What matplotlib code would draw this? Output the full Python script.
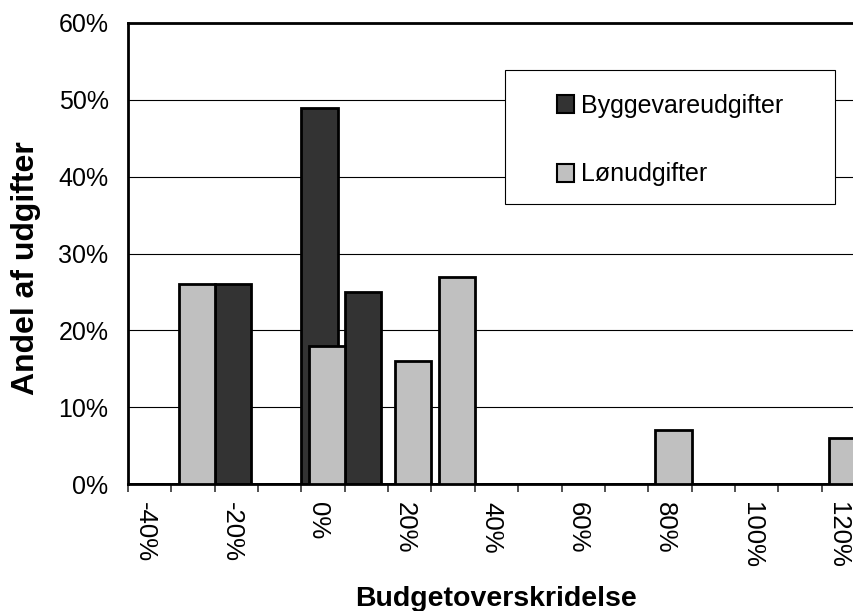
import numpy as np
import matplotlib
matplotlib.use('Agg')
import matplotlib.pyplot as plt
import matplotlib.transforms as mtransforms
from matplotlib.patches import Rectangle, Patch

plt.rcParams['font.family'] = ['Liberation Sans', 'DejaVu Sans']

# budgetoverskridelse i procent (kategorier paa x-aksen)
overskridelse = [-40, -30, -20, -10, 0, 10, 20, 30, 40, 50, 60, 70, 80, 90, 100, 110, 120]
# andel af udgifter i procent
byggevare = [0, 0, 26, 0, 49, 25, 0, 0, 0, 0, 0, 0, 0, 0, 0, 0, 0]
loen = [0, 26, 0, 0, 18, 0, 16, 27, 0, 0, 0, 0, 7, 0, 0, 0, 6]
y_ticks = [0, 10, 20, 30, 40, 50, 60]
x_labels = [f'{v}%' for v in overskridelse[::2]]

DARK = '#333333'
LIGHT = '#C0C0C0'

fig = plt.figure(figsize=(8.54, 6.11), dpi=100)
ax = fig.add_axes([128 / 854, 127 / 611, 737 / 854, 461 / 611])

x = np.arange(len(overskridelse))
# excel-style: gap 0, overlap 80%
width = 1 / 1.2
off = width * 0.2
ax.bar(x - off / 2, byggevare, width, color=DARK, edgecolor='black', linewidth=2, zorder=2)
ax.bar(x + off / 2, loen, width, color=LIGHT, edgecolor='black', linewidth=2, zorder=3)

ax.set_xlim(-0.5, len(overskridelse) - 0.5)
ax.set_ylim(0, 60)

# y-akse
ax.set_yticks(y_ticks)
ax.set_yticklabels([f'{v}%' for v in y_ticks])
ax.tick_params(axis='y', length=0, pad=14, labelsize=18)
ax.yaxis.grid(True, color='black', linewidth=0.8)
ax.set_axisbelow(True)

# x-akse: streger mellem kategorier, tekst paa hver anden kategori
ax.set_xticks(np.arange(-0.5, len(overskridelse), 1))
ax.set_xticklabels([])
ax.tick_params(axis='x', which='major', length=6, width=1.2, color='#333333')
ax.set_xticks(x[::2], minor=True)
ax.set_xticklabels(x_labels, minor=True, rotation=270)
ax.tick_params(axis='x', which='minor', length=0, pad=13, labelsize=18.5)
# flyt teksten lidt til venstre, saa blaekket sidder midt i kategorien
shift = mtransforms.ScaledTranslation(-0.05, 0, fig.dpi_scale_trans)
for lbl in ax.get_xticklabels(minor=True):
    lbl.set_transform(lbl.get_transform() + shift)

for side in ['left', 'bottom', 'top']:
    ax.spines[side].set_linewidth(2)
ax.spines['right'].set_visible(False)

# legend i hvid boks
x0, x1 = (505 - 128) / 737, (835 - 128) / 737
y0, y1 = (484 - 204) / 461, (484 - 70) / 461
ax.add_patch(Rectangle((x0, y0), x1 - x0, y1 - y0, transform=ax.transAxes,
                       facecolor='white', edgecolor='black', linewidth=0.8, zorder=4))
handles = [Patch(facecolor=DARK, edgecolor='black', linewidth=1.5),
           Patch(facecolor=LIGHT, edgecolor='black', linewidth=1.5)]
leg = ax.legend(handles, ['Byggevareudgifter', 'Lønudgifter'], loc='center',
                bbox_to_anchor=((x0 + x1) / 2, (y0 + y1) / 2 - 3 / 461), frameon=False,
                fontsize=18, handlelength=0.7, handleheight=0.7,
                handletextpad=0.25, labelspacing=1.8)
leg.set_zorder(5)

fig.text(496 / 854, 1 - 586 / 611, 'Budgetoverskridelse', ha='center', va='top',
         fontsize=20.5, fontweight='bold')
fig.text(26 / 854, 1 - 268 / 611, 'Andel af udgifter', ha='center', va='center',
         rotation=90, fontsize=23, fontweight='bold')

fig.savefig('out.png', dpi=100)
